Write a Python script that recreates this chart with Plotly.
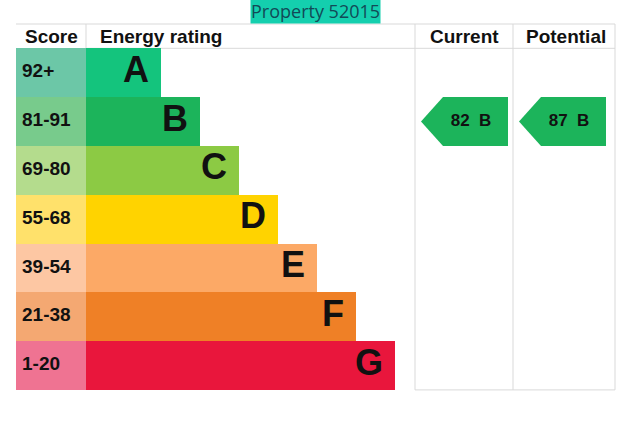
import plotly.graph_objects as go

# energy bands, top (best) to bottom (worst)
bands = ["A", "B", "C", "D", "E", "F", "G"]
score_ranges = ["92+", "81-91", "69-80", "55-68", "39-54", "21-38", "1-20"]
band_colors = ["#14c47d", "#1cb45b", "#8cca44", "#ffd300", "#fca966", "#ef8026", "#e9163c"]
score_colors = ["#6cc7a7", "#78cb8c", "#b4dc8d", "#ffe16b", "#fdc7a3", "#f4a872", "#ef7392"]

current_score = 82
current_band = "B"
potential_score = 87
potential_band = "B"

title_text = "Property 52015"
headers = ["Score", "Energy rating", "Current", "Potential"]

# geometry in pixels (axes are mapped 1:1 to the 633x422 figure)
W, H = 633, 422
left = 16
score_w = 70
bar_x0 = left + score_w
first_end = 161
step = 39
head_top = 24
rows_top = 48.3
row_h = 48.8
cur_x0, cur_x1 = 415, 513
pot_x0, pot_x1 = 513, 615
arrow_w = 87
grid = "#d9d9d9"

n = len(bands)
row_mid = [rows_top + row_h * (i + 0.5) for i in range(n)]
bar_end = [first_end + step * i for i in range(n)]
bold = dict(family="Liberation Sans, Arial", color="#111111", weight="bold")

fig = go.Figure()

# score column
fig.add_trace(go.Bar(
    y=row_mid, x=[score_w] * n, base=[left] * n, orientation="h",
    width=row_h, marker=dict(color=score_colors, line=dict(width=0)),
    hoverinfo="skip", showlegend=False))

# rating bars
fig.add_trace(go.Bar(
    y=row_mid, x=[e - bar_x0 for e in bar_end], base=[bar_x0] * n,
    orientation="h", width=row_h,
    marker=dict(color=band_colors, line=dict(width=0)),
    hoverinfo="skip", showlegend=False))

# score labels
fig.add_trace(go.Scatter(
    x=[left + 6] * n, y=row_mid, mode="text", text=score_ranges,
    textposition="middle right", textfont=dict(bold, size=19),
    hoverinfo="skip", showlegend=False))

# band letters
fig.add_trace(go.Scatter(
    x=[e - 12 for e in bar_end], y=row_mid, mode="text", text=bands,
    textposition="middle left", textfont=dict(bold, size=36),
    hoverinfo="skip", showlegend=False))


def arrow(score, band, x0):
    i = bands.index(band)
    ya, yb = rows_top + row_h * i, rows_top + row_h * (i + 1)
    xl = x0 + 6
    xr = xl + arrow_w
    tip = xl + 22
    ym = (ya + yb) / 2
    color = band_colors[i]
    fig.add_trace(go.Scatter(
        x=[xl, tip, xr, xr, tip, xl], y=[ym, ya, ya, yb, yb, ym],
        mode="lines", fill="toself", fillcolor=color,
        line=dict(color=color, width=0), hoverinfo="skip", showlegend=False))
    fig.add_trace(go.Scatter(
        x=[xl + 50], y=[ym], mode="text",
        text=[f"{score}&nbsp;&nbsp;{band}"], textposition="middle center",
        textfont=dict(bold, size=17), hoverinfo="skip", showlegend=False))


arrow(current_score, current_band, cur_x0)
arrow(potential_score, potential_band, pot_x0)

# table lines
rows_bottom = rows_top + row_h * n
shapes = [
    dict(type="line", x0=left, x1=pot_x1, y0=head_top, y1=head_top),
    dict(type="line", x0=bar_x0, x1=pot_x1, y0=rows_top, y1=rows_top),
    dict(type="line", x0=bar_x0, x1=bar_x0, y0=head_top, y1=rows_top),
    dict(type="line", x0=cur_x0, x1=cur_x0, y0=head_top, y1=rows_bottom),
    dict(type="line", x0=pot_x0, x1=pot_x0, y0=head_top, y1=rows_bottom),
    dict(type="line", x0=pot_x1, x1=pot_x1, y0=head_top, y1=rows_bottom),
    dict(type="line", x0=cur_x0, x1=pot_x1, y0=rows_bottom, y1=rows_bottom),
]
for s in shapes:
    s.update(xref="x", yref="y", line=dict(color=grid, width=1), layer="below")

head_mid = (head_top + rows_top) / 2
hfont = dict(bold, size=19)
annotations = [
    dict(x=left + score_w / 2, y=head_mid, text=headers[0], xanchor="center"),
    dict(x=bar_x0 + 12, y=head_mid, text=headers[1], xanchor="left"),
    dict(x=(cur_x0 + cur_x1) / 2, y=head_mid, text=headers[2], xanchor="center"),
    dict(x=(pot_x0 + pot_x1) / 2 + 2, y=head_mid, text=headers[3], xanchor="center"),
]
for a in annotations:
    a.update(xref="x", yref="y", yanchor="middle", showarrow=False, font=hfont)

annotations.append(dict(
    x=315, y=11, xref="x", yref="y", text=title_text, showarrow=False,
    xanchor="center", yanchor="middle", bgcolor="#14cfae", borderpad=0,
    font=dict(family="Open Sans", size=18, color="#124a57")))

fig.update_layout(
    width=W, height=H, margin=dict(l=0, r=0, t=0, b=0),
    paper_bgcolor="white", plot_bgcolor="white",
    xaxis=dict(range=[0, W], visible=False, fixedrange=True),
    yaxis=dict(range=[H, 0], visible=False, fixedrange=True),
    shapes=shapes, annotations=annotations, barmode="overlay", bargap=0,
)

# drop the default page margin so the figure sits at the window's corner
fig.write_html("out.html", config={"displayModeBar": False},
               post_script="document.body.style.margin = '0';")
